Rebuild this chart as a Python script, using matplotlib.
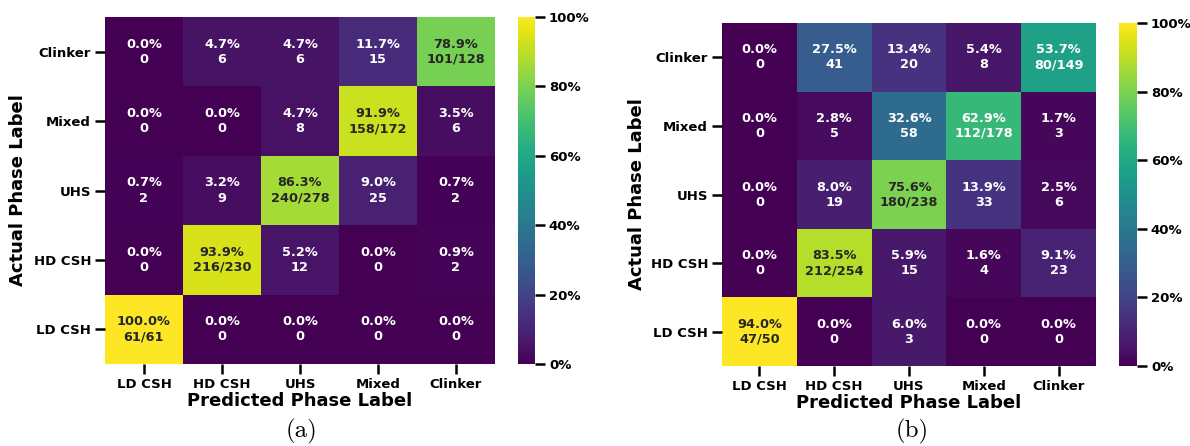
import numpy as np
import matplotlib
matplotlib.use("Agg")
import matplotlib.pyplot as plt
from matplotlib.colors import Normalize

# Class names: rows are actual phases (top to bottom), columns are predicted phases
row_labels = ["Clinker", "Mixed", "UHS", "HD CSH", "LD CSH"]
col_labels = ["LD CSH", "HD CSH", "UHS", "Mixed", "Clinker"]

# Confusion counts for model (a)
counts_a = [
    [0, 6, 6, 15, 101],
    [0, 0, 8, 158, 6],
    [2, 9, 240, 25, 2],
    [0, 216, 12, 0, 2],
    [61, 0, 0, 0, 0],
]

# Confusion counts for model (b)
counts_b = [
    [0, 41, 20, 8, 80],
    [0, 5, 58, 112, 3],
    [0, 19, 180, 33, 6],
    [0, 212, 15, 4, 23],
    [47, 0, 3, 0, 0],
]

cbar_ticks = [0, 20, 40, 60, 80, 100]

cmap = plt.get_cmap("viridis")


def luminance(rgb):
    r, g, b = [c / 12.92 if c <= 0.03928 else ((c + 0.055) / 1.055) ** 2.4 for c in rgb[:3]]
    return 0.2126 * r + 0.7152 * g + 0.0722 * b


def draw_matrix(ax, cax, counts):
    counts = np.asarray(counts, dtype=float)
    totals = counts.sum(axis=1, keepdims=True)
    pct = counts / totals * 100
    # colour range spans the data, the bar is read as a fraction of its top
    norm = Normalize(vmin=0, vmax=pct.max())
    n_rows, n_cols = pct.shape
    mesh = ax.pcolormesh(np.arange(n_cols + 1), np.arange(n_rows + 1), pct,
                         cmap=cmap, norm=norm)
    ax.set_xlim(0, n_cols)
    ax.set_ylim(n_rows, 0)
    for i in range(n_rows):
        for j in range(n_cols):
            val = pct[i, j]
            c = int(counts[i, j])
            if row_labels[i] == col_labels[j]:
                txt = f"{val:.1f}%\n{c}/{int(totals[i, 0])}"
            else:
                txt = f"{val:.1f}%\n{c}"
            color = "#262626" if luminance(cmap(norm(val))) > 0.45 else "white"
            ax.text(j + 0.5, i + 0.5, txt, ha="center", va="center",
                    fontsize=9.3, fontweight="bold", color=color, linespacing=1.2)
    ax.set_xticks(np.arange(n_cols) + 0.5)
    ax.set_xticklabels(col_labels, fontsize=9.5, fontweight="bold")
    ax.set_yticks(np.arange(n_rows) + 0.5)
    ax.set_yticklabels(row_labels, fontsize=9.5, fontweight="bold", rotation=0)
    ax.tick_params(length=7, width=1.8, pad=3)
    for s in ax.spines.values():
        s.set_visible(False)
    ax.set_xlabel("Predicted Phase Label", fontsize=13, fontweight="bold", labelpad=1)
    ax.set_ylabel("Actual Phase Label", fontsize=13, fontweight="bold", va="center")

    cb = plt.colorbar(mesh, cax=cax)
    cb.outline.set_visible(False)
    cb.set_ticks([t / 100 * pct.max() for t in cbar_ticks])
    cb.set_ticklabels([f"{t}%" for t in cbar_ticks])
    cax.tick_params(length=7, width=1.8, pad=3)
    for lab in cax.get_yticklabels():
        lab.set_fontweight("bold")
        lab.set_fontsize(9.5)
    return mesh


W, H = 1190, 446
fig = plt.figure(figsize=(W / 100, H / 100), dpi=100)


def px_axes(x0, y0, x1, y1):
    return fig.add_axes([x0 / W, 1 - y1 / H, (x1 - x0) / W, (y1 - y0) / H])


ax_a = px_axes(105, 17, 495, 364)
cax_a = px_axes(518, 17, 535, 364)
ax_b = px_axes(722, 23, 1096, 366)
cax_b = px_axes(1119, 23, 1137, 366)

draw_matrix(ax_a, cax_a, counts_a)
draw_matrix(ax_b, cax_b, counts_b)

ax_a.yaxis.set_label_coords((18.5 - 105) / 390, 0.5)
ax_b.yaxis.set_label_coords((637 - 722) / 374, 0.5)

fig.text(302 / W, 1 - 431 / H, "(a)", ha="center", va="center",
         fontsize=18, family="cmr10")
fig.text(912 / W, 1 - 431 / H, "(b)", ha="center", va="center",
         fontsize=18, family="cmr10")

fig.savefig("out.png", dpi=100)
